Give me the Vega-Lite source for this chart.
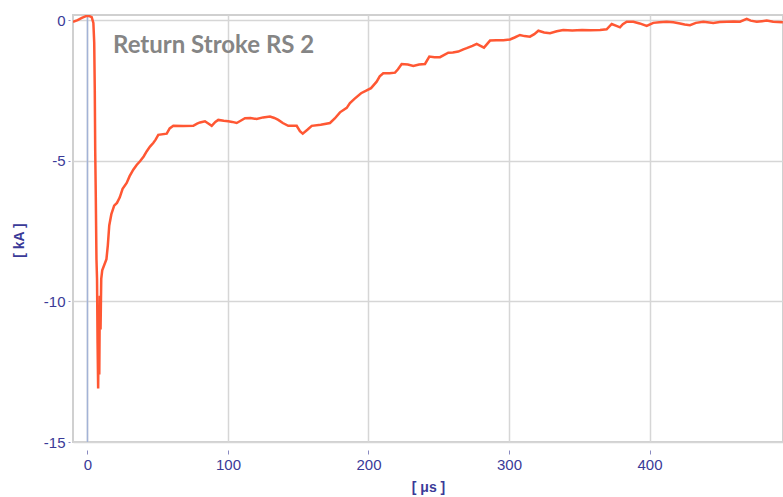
{
  "$schema": "https://vega.github.io/schema/vega-lite/v6.json",
  "width": 710,
  "height": 427,
  "autosize": {"type": "none"},
  "padding": {"left": 73, "top": 15, "right": 0, "bottom": 55},
  "background": "white",
  "title": {
    "text": "Return Stroke RS 2",
    "anchor": "start",
    "frame": "group",
    "orient": "top",
    "offset": 0,
    "dx": 40,
    "dy": 64,
    "baseline": "alphabetic",
    "font": "Lato",
    "fontSize": 24,
    "fontWeight": "bold",
    "color": "#858585"
  },
  "layer": [
    {
      "data": {"values": [{}]},
      "mark": {"type": "rule", "color": "#a3b3d6", "strokeWidth": 1.5},
      "encoding": {"x": {"datum": 0, "type": "quantitative"}}
    },
    {
      "data": {
        "values": [
          {"t": -10.3, "I": -0.06}, {"t": -7, "I": 0.0}, {"t": -4, "I": 0.08}, {"t": -1, "I": 0.14},
          {"t": 1, "I": 0.15}, {"t": 3, "I": 0.1}, {"t": 4.2, "I": -0.1}, {"t": 4.8, "I": -0.8},
          {"t": 5.2, "I": -2.5}, {"t": 5.5, "I": -4.6}, {"t": 5.9, "I": -6.2}, {"t": 6.4, "I": -8.5},
          {"t": 6.8, "I": -9.2}, {"t": 7.2, "I": -11.5}, {"t": 7.6, "I": -13.1}, {"t": 8.0, "I": -10.5},
          {"t": 8.4, "I": -12.6}, {"t": 8.8, "I": -9.8}, {"t": 9.3, "I": -11.0}, {"t": 9.8, "I": -9.2},
          {"t": 10.5, "I": -8.9}, {"t": 12, "I": -8.7}, {"t": 13.5, "I": -8.5}, {"t": 14.5, "I": -8.0},
          {"t": 15.5, "I": -7.3}, {"t": 17, "I": -6.9}, {"t": 19, "I": -6.6}, {"t": 21, "I": -6.5},
          {"t": 23, "I": -6.3}, {"t": 25, "I": -6.0}, {"t": 27.9, "I": -5.79}, {"t": 30, "I": -5.55},
          {"t": 32.6, "I": -5.32}, {"t": 35, "I": -5.15}, {"t": 37.4, "I": -5.02}, {"t": 40, "I": -4.85},
          {"t": 42.1, "I": -4.67}, {"t": 44.5, "I": -4.5}, {"t": 46.8, "I": -4.37}, {"t": 48.5, "I": -4.25},
          {"t": 50.4, "I": -4.08}, {"t": 56.4, "I": -4.04}, {"t": 58.5, "I": -3.85}, {"t": 61.1, "I": -3.76},
          {"t": 68, "I": -3.77}, {"t": 75.3, "I": -3.76}, {"t": 78, "I": -3.68}, {"t": 80.1, "I": -3.64},
          {"t": 83.6, "I": -3.6}, {"t": 86, "I": -3.68}, {"t": 88.4, "I": -3.76}, {"t": 91, "I": -3.62},
          {"t": 93.1, "I": -3.55}, {"t": 97, "I": -3.58}, {"t": 100.2, "I": -3.6}, {"t": 103, "I": -3.62},
          {"t": 106.2, "I": -3.66}, {"t": 109, "I": -3.58}, {"t": 112.1, "I": -3.49}, {"t": 116, "I": -3.48},
          {"t": 120.4, "I": -3.52}, {"t": 125, "I": -3.46}, {"t": 129.9, "I": -3.43}, {"t": 133, "I": -3.48},
          {"t": 135.8, "I": -3.55}, {"t": 139, "I": -3.66}, {"t": 142.9, "I": -3.76}, {"t": 148.9, "I": -3.76},
          {"t": 151.2, "I": -3.95}, {"t": 153.2, "I": -4.04}, {"t": 156.5, "I": -3.9}, {"t": 159.6, "I": -3.76},
          {"t": 166, "I": -3.72}, {"t": 172.6, "I": -3.66}, {"t": 176, "I": -3.5}, {"t": 179.7, "I": -3.28},
          {"t": 184.5, "I": -3.12}, {"t": 186.8, "I": -2.95}, {"t": 190, "I": -2.8}, {"t": 194.7, "I": -2.6},
          {"t": 198, "I": -2.52}, {"t": 201.8, "I": -2.42}, {"t": 205.8, "I": -2.19}, {"t": 208, "I": -2.0},
          {"t": 210.5, "I": -1.89}, {"t": 215, "I": -1.89}, {"t": 218.9, "I": -1.87}, {"t": 221, "I": -1.75},
          {"t": 223.6, "I": -1.56}, {"t": 228, "I": -1.58}, {"t": 231.9, "I": -1.63}, {"t": 236, "I": -1.58},
          {"t": 240.2, "I": -1.56}, {"t": 243.3, "I": -1.3}, {"t": 247, "I": -1.32}, {"t": 250.9, "I": -1.32},
          {"t": 256.8, "I": -1.16}, {"t": 260, "I": -1.15}, {"t": 263.9, "I": -1.12}, {"t": 267.5, "I": -1.04},
          {"t": 269.9, "I": -1.0}, {"t": 274, "I": -0.92}, {"t": 277, "I": -0.85}, {"t": 279, "I": -0.9},
          {"t": 282.2, "I": -0.98}, {"t": 286.5, "I": -0.73}, {"t": 291, "I": -0.72}, {"t": 296, "I": -0.72},
          {"t": 300.7, "I": -0.69}, {"t": 304, "I": -0.62}, {"t": 307.8, "I": -0.53}, {"t": 311, "I": -0.57},
          {"t": 314.9, "I": -0.59}, {"t": 318, "I": -0.5}, {"t": 320.9, "I": -0.38}, {"t": 325, "I": -0.44},
          {"t": 329.2, "I": -0.47}, {"t": 334, "I": -0.4}, {"t": 338.6, "I": -0.35}, {"t": 345, "I": -0.37},
          {"t": 352, "I": -0.35}, {"t": 358, "I": -0.36}, {"t": 364.8, "I": -0.35}, {"t": 369.5, "I": -0.33},
          {"t": 373.1, "I": -0.14}, {"t": 376, "I": -0.2}, {"t": 379, "I": -0.26}, {"t": 381, "I": -0.15},
          {"t": 383.8, "I": -0.06}, {"t": 388.5, "I": -0.06}, {"t": 393, "I": -0.12}, {"t": 398, "I": -0.21},
          {"t": 402.7, "I": -0.1}, {"t": 407, "I": -0.08}, {"t": 412.2, "I": -0.06}, {"t": 417, "I": -0.08},
          {"t": 421.7, "I": -0.12}, {"t": 425, "I": -0.16}, {"t": 428.8, "I": -0.18}, {"t": 433, "I": -0.1},
          {"t": 438.3, "I": -0.06}, {"t": 445.4, "I": -0.1}, {"t": 450, "I": -0.07}, {"t": 455, "I": -0.06},
          {"t": 460, "I": -0.05}, {"t": 464.4, "I": -0.06}, {"t": 469.2, "I": 0.04}, {"t": 472, "I": -0.02},
          {"t": 476.3, "I": -0.06}, {"t": 480, "I": -0.04}, {"t": 483.4, "I": -0.02}, {"t": 488, "I": -0.06},
          {"t": 494.9, "I": -0.08}
        ]
      },
      "mark": {"type": "line", "color": "#ff5733", "strokeWidth": 2.5, "clip": true},
      "encoding": {
        "x": {
          "field": "t",
          "type": "quantitative",
          "scale": {"domain": [-10.3, 495], "nice": false, "zero": false},
          "axis": {
            "values": [0, 100, 200, 300, 400],
            "title": "[ μs ]",
            "domain": false,
            "offset": 8,
            "tickSize": 4,
            "tickColor": "#8a8ac0",
            "tickWidth": 1,
            "labelPadding": 3,
            "labelFont": "Liberation Sans",
            "labelFontSize": 15,
            "labelColor": "#3a3a98",
            "labelOverlap": false,
            "labelFlush": false,
            "titleFont": "Liberation Sans",
            "titleFontSize": 14,
            "titleFontWeight": "bold",
            "titleColor": "#3a3a98",
            "titlePadding": 8,
            "grid": true,
            "gridColor": "#d6d6d6",
            "gridWidth": 1.5
          }
        },
        "y": {
          "field": "I",
          "type": "quantitative",
          "scale": {"domain": [-15, 0.18], "nice": false, "zero": false},
          "axis": {
            "values": [0, -5, -10, -15],
            "labelExpr": "'' + datum.value",
            "title": "[ kA ]",
            "domain": false,
            "offset": 3,
            "tickSize": 2,
            "tickColor": "#8a8ac0",
            "tickWidth": 1,
            "labelPadding": 3,
            "labelFont": "Liberation Sans",
            "labelFontSize": 15,
            "labelColor": "#3a3a98",
            "labelOverlap": false,
            "labelFlush": false,
            "titleFont": "Liberation Sans",
            "titleFontSize": 14,
            "titleFontWeight": "bold",
            "titleColor": "#3a3a98",
            "titleX": -44,
            "titleY": 225,
            "grid": true,
            "gridColor": "#d6d6d6",
            "gridWidth": 1.5
          }
        }
      }
    }
  ],
  "config": {"view": {"stroke": "#d0d0d0", "strokeWidth": 2}}
}
